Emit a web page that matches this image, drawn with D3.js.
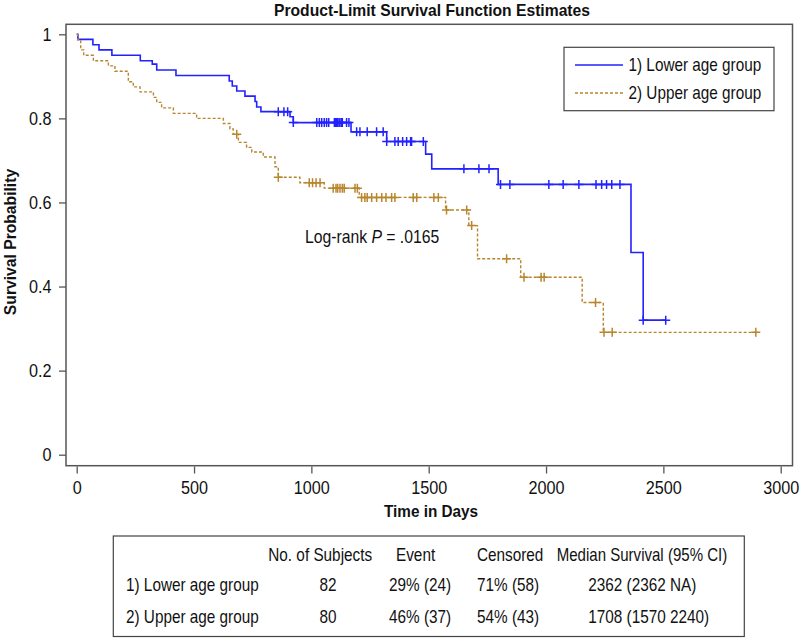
<!DOCTYPE html>
<html>
<head>
<meta charset="utf-8">
<script src="https://cdn.jsdelivr.net/npm/d3@7"></script>
<style>
  html, body { margin: 0; padding: 0; background: #fff; }
  svg { display: block; }
  text { font-family: "Liberation Sans", Arial, sans-serif; fill: #111; }
</style>
</head>
<body>
<svg id="chart" width="800" height="638"></svg>
<script>
// ---------------- DATA ----------------
const groupNames = ["1) Lower age group", "2) Upper age group"];

// Lower age group: event step times and survival after each step
const lowerTimes = [5, 69, 95, 150, 271, 322, 341, 423, 650, 663, 682, 717, 760, 767, 785, 909, 923, 1169, 1321, 1487, 1513, 1796, 2362, 2414];
const lowerSurv  = [0.988, 0.975, 0.963, 0.950, 0.937, 0.929, 0.915, 0.902, 0.889, 0.877, 0.865, 0.853, 0.840, 0.827, 0.816, 0.804, 0.790, 0.768, 0.745, 0.715, 0.680, 0.643, 0.481, 0.320];
const lowerCensor = [859, 883, 899, 923, 1023, 1034, 1044, 1055, 1065, 1074, 1098, 1102, 1108, 1112, 1118, 1122, 1129, 1132, 1150, 1160, 1193, 1207, 1238, 1278, 1306, 1321, 1356, 1370, 1389, 1406, 1423, 1427, 1477, 1650, 1714, 1757, 1806, 1846, 2012, 2073, 2140, 2213, 2237, 2258, 2280, 2315, 2414, 2510];
const lowerEnd = 2510;

// Upper age group
const upperTimes = [4, 17, 30, 71, 135, 163, 220, 241, 270, 327, 341, 362, 412, 511, 625, 653, 667, 689, 724, 746, 795, 845, 859, 951, 1055, 1204, 1572, 1671, 1708, 1892, 2154, 2244];
const upperSurv  = [0.987, 0.963, 0.950, 0.937, 0.925, 0.912, 0.887, 0.875, 0.863, 0.850, 0.838, 0.825, 0.812, 0.800, 0.788, 0.775, 0.762, 0.743, 0.731, 0.720, 0.708, 0.685, 0.660, 0.647, 0.634, 0.612, 0.582, 0.545, 0.466, 0.422, 0.362, 0.291];
const upperCensor = [682, 859, 991, 1005, 1020, 1037, 1093, 1105, 1112, 1122, 1132, 1140, 1186, 1196, 1214, 1228, 1238, 1257, 1278, 1300, 1318, 1342, 1356, 1434, 1449, 1522, 1541, 1576, 1662, 1683, 1832, 1906, 1979, 1992, 2211, 2247, 2282, 2894];
const upperEnd = 2894;

const xTicks = [0, 500, 1000, 1500, 2000, 2500, 3000];
const yTicks = [0, 0.2, 0.4, 0.6, 0.8, 1];
const yTickLabels = ["0", "0.2", "0.4", "0.6", "0.8", "1"];

const titleText = "Product-Limit Survival Function Estimates";
const xLabel = "Time in Days";
const yLabel = "Survival Probability";
const pValue = ".0165";

const tableHeaders = ["No. of Subjects", "Event", "Censored", "Median Survival (95% CI)"];
const tableSubjects = ["82", "80"];
const tableEvent = ["29% (24)", "46% (37)"];
const tableCensored = ["71% (58)", "54% (43)"];
const tableMedian = ["2362 (2362 NA)", "1708 (1570 2240)"];

// ---------------- LAYOUT ----------------
const svg = d3.select("#chart");
const frame = { left: 66, right: 792.5, top: 24.3, bottom: 465.7 };
const SX = 0.875;        // horizontal condensing of the text face
const FS = "17.5px";

const x = d3.scaleLinear().domain([0, 3000]).range([76.7, 780.7]);
const y = d3.scaleLinear().domain([0, 1]).range([454.7, 34.3]);

const colors = ["#2222ff", "#b8862e"];

// condensed text helper
function ctext(parent, px, py, str, opts = {}) {
  const g = parent.append("g").attr("transform",
    `translate(${px},${py})` + (opts.rotate ? ` rotate(${opts.rotate})` : "") + ` scale(${opts.sx || SX},1)`);
  const t = g.append("text")
    .attr("text-anchor", opts.anchor || "start")
    .style("font-size", opts.size || FS)
    .style("font-weight", opts.bold ? "bold" : null);
  if (str !== null) t.text(str);
  return t;
}

// title
ctext(svg, 432, 16, titleText, { anchor: "middle", bold: true, size: "16px", sx: 0.98 });

// frame
svg.append("rect")
  .attr("x", frame.left).attr("y", frame.top)
  .attr("width", frame.right - frame.left).attr("height", frame.bottom - frame.top)
  .attr("fill", "none").attr("stroke", "#555").attr("stroke-width", 1.5);

// axes
const yAxis = d3.axisLeft(y).tickValues(yTicks)
  .tickFormat((d, i) => yTickLabels[i]).tickSize(7).tickPadding(7);
const gy = svg.append("g").attr("transform", `translate(${frame.left},0)`).call(yAxis);
gy.select(".domain").remove();
gy.selectAll(".tick line").attr("stroke", "#555").attr("stroke-width", 1.3);
gy.selectAll(".tick text")
  .style("font-size", "18px").style("font-family", null).attr("fill", "#111")
  .attr("x", -14.5 / 0.9).attr("transform", `scale(0.9,1)`);

const xAxis = d3.axisBottom(x).tickValues(xTicks).tickFormat(d3.format("d")).tickSize(7).tickPadding(8);
const gx = svg.append("g").attr("transform", `translate(0,${frame.bottom + 0.8})`).call(xAxis);
gx.select(".domain").remove();
gx.selectAll(".tick line").attr("stroke", "#555").attr("stroke-width", 1.3);
gx.selectAll(".tick text")
  .style("font-size", "18px").style("font-family", null).attr("fill", "#111")
  .attr("transform", `scale(0.9,1)`);

// axis labels
ctext(svg, 431, 517, xLabel, { anchor: "middle", bold: true, size: "17px", sx: 0.9 });
ctext(svg, 15.5, 242, yLabel, { anchor: "middle", bold: true, size: "16px", sx: 0.98, rotate: -90 });

// survival curves
function stepPoints(times, surv, end) {
  const pts = [[0, 1]];
  let s = 1;
  times.forEach((t, i) => { pts.push([t, s]); s = surv[i]; pts.push([t, s]); });
  pts.push([end, s]);
  return pts;
}
function survAt(times, surv, t) {
  let s = 1;
  times.forEach((tt, i) => { if (tt <= t) s = surv[i]; });
  return s;
}

const line = d3.line().x(d => x(d[0])).y(d => y(d[1]));

const groups = [
  { times: lowerTimes, surv: lowerSurv, cens: lowerCensor, end: lowerEnd, color: colors[0], dash: null, width: 1.6 },
  { times: upperTimes, surv: upperSurv, cens: upperCensor, end: upperEnd, color: colors[1], dash: "3,2", width: 1.4 }
];

groups.forEach(g => {
  svg.append("path")
    .datum(stepPoints(g.times, g.surv, g.end))
    .attr("d", line)
    .attr("fill", "none")
    .attr("stroke", g.color)
    .attr("stroke-width", g.width)
    .attr("stroke-dasharray", g.dash);
  svg.append("g").selectAll("path")
    .data(g.cens)
    .join("path")
    .attr("d", d => {
      const cx = x(d), cy = y(survAt(g.times, g.surv, d));
      return `M${cx - 4.5},${cy}h9M${cx},${cy - 4.5}v9`;
    })
    .attr("stroke", g.color)
    .attr("stroke-width", 1.5)
    .attr("fill", "none");
});

// legend
const lg = svg.append("g");
lg.append("rect").attr("x", 564).attr("y", 47.3).attr("width", 210).attr("height", 63.4)
  .attr("fill", "#fff").attr("stroke", "#444").attr("stroke-width", 1.2);
groupNames.forEach((name, i) => {
  const cy = 65 + i * 28;
  lg.append("line").attr("x1", 575).attr("x2", 623).attr("y1", cy).attr("y2", cy)
    .attr("stroke", groups[i].color).attr("stroke-width", groups[i].width)
    .attr("stroke-dasharray", groups[i].dash);
  ctext(lg, 628.5, cy + 6.3, name);
});

// log-rank annotation
const lr = ctext(svg, 305, 243, null, { sx: 0.9 });
lr.append("tspan").text("Log-rank ");
lr.append("tspan").style("font-style", "italic").text("P");
lr.append("tspan").text(" = " + pValue);

// summary table
const tb = svg.append("g");
tb.append("rect").attr("x", 113.3).attr("y", 536).attr("width", 631).attr("height", 100.5)
  .attr("fill", "none").attr("stroke", "#444").attr("stroke-width", 1.2);
const headerX = [268.3, 396, 477, 556.7];
tableHeaders.forEach((h, i) => {
  ctext(tb, headerX[i], 560.5, h, { sx: i === 3 ? 0.86 : SX });
});
const rowY = [591, 622.5];
groupNames.forEach((name, r) => {
  ctext(tb, 126, rowY[r], name);
  ctext(tb, 328, rowY[r], tableSubjects[r], { anchor: "middle" });
  ctext(tb, 389, rowY[r], tableEvent[r]);
  ctext(tb, 477, rowY[r], tableCensored[r]);
  ctext(tb, 588.3, rowY[r], tableMedian[r]);
});
</script>
</body>
</html>
